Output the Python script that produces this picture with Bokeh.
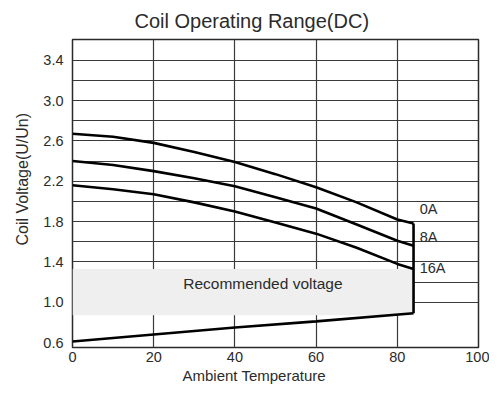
from bokeh.plotting import figure
from bokeh.models import FixedTicker, Range1d, Title, PrintfTickFormatter
from bokeh.core.properties import value
from bokeh.embed import file_html
from bokeh.resources import INLINE

# ---- data ----
temps = [0, 10, 20, 30, 40, 50, 60, 70, 80, 84]
v_0A = [2.67, 2.64, 2.58, 2.49, 2.39, 2.27, 2.14, 1.99, 1.82, 1.78]
v_8A = [2.40, 2.36, 2.30, 2.23, 2.15, 2.04, 1.93, 1.77, 1.61, 1.56]
v_16A = [2.16, 2.12, 2.07, 1.99, 1.90, 1.79, 1.68, 1.54, 1.38, 1.33]
min_temps = [0, 20, 40, 60, 84]
v_min = [0.61, 0.68, 0.75, 0.81, 0.89]
curve_names = ["0A", "8A", "16A"]
curve_label_y = [1.92, 1.65, 1.34]
band_temp = [0, 84]
band_volt = [0.87, 1.33]
band_text = "Recommended voltage"
x_ticks = [0, 20, 40, 60, 80, 100]
y_ticks = [0.6, 1.0, 1.4, 1.8, 2.2, 2.6, 3.0, 3.4]
y_grid = [1.0, 1.2, 1.4, 1.6, 1.8, 2.0, 2.2, 2.4, 2.6, 2.8, 3.0, 3.2, 3.4]
x_grid = [20, 40, 60, 80]
title_text = "Coil Operating Range(DC)"
x_title = "Ambient Temperature"
y_title = "Coil Voltage(U/Un)"

FONT = "Liberation Sans"
TXT = "#2b2b2b"

p = figure(width=489, height=385, output_backend="svg", toolbar_location=None,
           x_range=Range1d(0, 100), y_range=Range1d(0.551, 3.605),
           min_border_left=72, min_border_right=11, min_border_top=38, min_border_bottom=38)
p.background_fill_color = "white"
p.border_fill_color = "white"
p.outline_line_color = "#2a2a2a"
p.outline_line_width = 1.5

p.xgrid.ticker = FixedTicker(ticks=x_grid)
p.ygrid.ticker = FixedTicker(ticks=y_grid)
for g in (p.xgrid, p.ygrid):
    g.grid_line_color = "#3a3a3a"
    g.grid_line_width = 1.2

for ax in (p.xaxis, p.yaxis):
    ax.axis_line_color = None
    ax.major_tick_line_color = None
    ax.minor_tick_line_color = None
    ax.major_tick_out = 0
    ax.major_tick_in = 0
    ax.major_label_text_font = FONT
    ax.major_label_text_font_size = "14.5px"
    ax.major_label_text_color = TXT
p.xaxis.ticker = FixedTicker(ticks=x_ticks)
p.yaxis.ticker = FixedTicker(ticks=y_ticks)
p.yaxis.formatter = PrintfTickFormatter(format="%.1f")
p.xaxis.major_label_standoff = 4
p.yaxis.major_label_standoff = 9

# titles (side-panel titles so they can be offset)
p.add_layout(Title(text=title_text, align="left", offset=62, standoff=15,
                   text_font=FONT, text_font_size="20px", text_font_style="normal",
                   text_color=TXT), "above")
p.add_layout(Title(text=x_title, align="left", offset=110, standoff=0,
                   text_font=FONT, text_font_size="15px", text_font_style="normal",
                   text_color=TXT), "below")
p.add_layout(Title(text=y_title, align="left", offset=102, standoff=20,
                   text_font=FONT, text_font_size="16px", text_font_style="normal",
                   text_color=TXT), "left")

# recommended band
p.quad(left=[band_temp[0]], right=[band_temp[1]], bottom=[band_volt[0]], top=[band_volt[1]],
       fill_color="#efefef", line_color=None)

lw = 2.6
for ys in (v_0A, v_8A, v_16A):
    p.line(temps, ys, line_color="black", line_width=lw)
p.line(min_temps, v_min, line_color="black", line_width=lw)
p.line([temps[-1], temps[-1]], [v_0A[-1], v_min[-1]], line_color="black", line_width=lw)

p.text(x=[85.5] * 3, y=curve_label_y, text=curve_names, text_font=value(FONT),
       text_font_size="14.5px", text_color=TXT, text_align="left", text_baseline="middle")
p.text(x=[46.9], y=[1.19], text=[band_text], text_font=value(FONT),
       text_font_size="15.5px", text_color=TXT, text_align="center", text_baseline="middle")

open("out.html", "w").write(file_html(p, INLINE))
